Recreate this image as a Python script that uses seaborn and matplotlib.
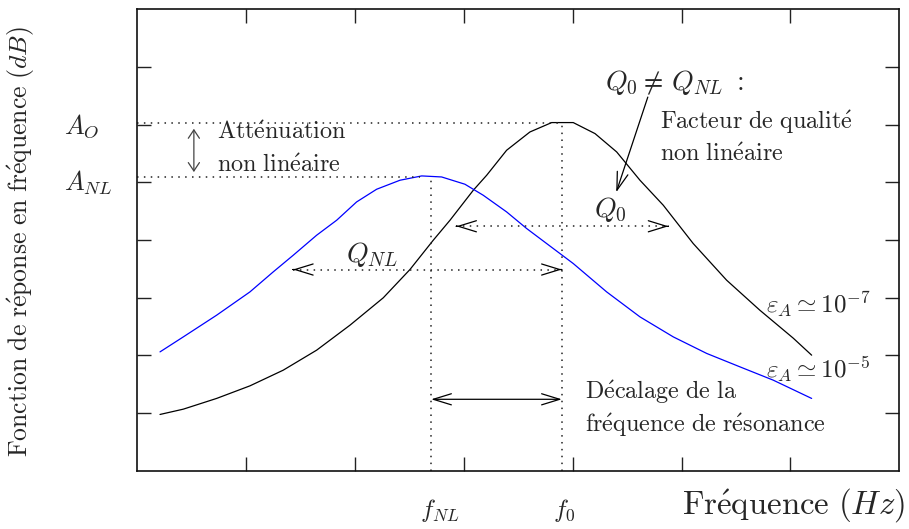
import matplotlib
matplotlib.use("Agg")
import matplotlib.pyplot as plt
import seaborn as sns
import pandas as pd

# linear response (eps_A ~ 1e-7), black curve
freq_lin = [0.209, 0.423, 0.729, 1.035, 1.341, 1.648, 1.954, 2.260, 2.505,
            2.719, 2.873, 3.087, 3.210, 3.393, 3.607, 3.807, 4.005, 4.205,
            4.404, 4.618, 4.832, 5.107, 5.414, 5.719, 6.026, 6.195]
amp_lin = [0.977, 1.069, 1.255, 1.473, 1.745, 2.092, 2.525, 3.000, 3.490,
           3.998, 4.345, 4.865, 5.125, 5.558, 5.875, 6.038, 6.038, 5.847,
           5.529, 5.038, 4.605, 3.941, 3.305, 2.785, 2.300, 2.005]
# non linear response (eps_A ~ 1e-5), blue curve
freq_nl = [0.209, 0.423, 0.729, 1.035, 1.249, 1.433, 1.648, 1.832, 2.015,
           2.199, 2.413, 2.613, 2.796, 3.010, 3.178, 3.393, 3.577, 3.699,
           4.005, 4.312, 4.618, 4.924, 5.231, 5.537, 5.842, 6.195]
amp_nl = [2.062, 2.322, 2.698, 3.102, 3.449, 3.738, 4.085, 4.345, 4.662,
          4.882, 5.038, 5.113, 5.095, 4.969, 4.778, 4.489, 4.201, 4.028,
          3.594, 3.102, 2.669, 2.322, 2.035, 1.802, 1.572, 1.255]

f0, f_nl = 3.90, 2.70
a0, a_nl = 6.03, 5.10
q0_span = (2.93, 4.88, 4.24)
qnl_span = (1.43, 3.90, 3.49)


def rm(s):
    # plain text rendered in computer modern roman
    s = s.replace(' ', r'\ ').replace('é', r'\acute{e}')
    return r'$\mathrm{' + s + '}$'


def head(ax, x, y, dx, dy, hl=1.3, hw=0.4, color='k'):
    ax.annotate('', xy=(x, y), xytext=(x - dx, y - dy),
                arrowprops=dict(arrowstyle=f'->,head_length={hl},head_width={hw}',
                                lw=0.9, color=color, shrinkA=0, shrinkB=0))


sns.set_style('ticks')
plt.rcParams['mathtext.fontset'] = 'cm'
plt.rcParams['font.family'] = ['DejaVu Serif']

fig = plt.figure(figsize=(9.09, 5.29), dpi=100)
ax = fig.add_axes([0.151, 0.110, 0.8383, 0.8722])

df_lin = pd.DataFrame({'f': freq_lin, 'a': amp_lin})
df_nl = pd.DataFrame({'f': freq_nl, 'a': amp_nl})
sns.lineplot(data=df_lin, x='f', y='a', sort=False, estimator=None, color='black', lw=0.9, ax=ax)
sns.lineplot(data=df_nl, x='f', y='a', sort=False, estimator=None, color='#0000ff', lw=0.9, ax=ax)

ax.set_xlim(0, 7)
ax.set_ylim(0, 8)
ax.set_xticks(range(1, 7))
ax.set_yticks(range(1, 8))
ax.set_xlabel('')
ax.set_ylabel('')
ax.tick_params(direction='in', length=10, width=1, top=True, right=True,
               labelbottom=False, labelleft=False, color='#222222')
for sp in ax.spines.values():
    sp.set_linewidth(1.2)
    sp.set_color('#111111')

dot = dict(color='#222222', lw=1.1, ls=(0, (1, 3.5)))
ax.plot([0, f0], [a0, a0], **dot)
ax.plot([0, f_nl - 0.1], [a_nl, a_nl], **dot)
ax.plot([f0, f0], [0, a0], **dot)
ax.plot([f_nl, f_nl], [0, a_nl], **dot)

# dotted bandwidth arrows
x1, x2, yq = qnl_span
ax.plot([x1, x2], [yq, yq], **dot)
head(ax, x1, yq, -0.001, 0)
head(ax, x2, yq, 0.001, 0)
x1, x2, yq = q0_span
ax.plot([x1, x2], [yq, yq], **dot)
head(ax, x1, yq, -0.001, 0)
head(ax, x2, yq, 0.001, 0)

# frequency shift arrow
ax.annotate('', xy=(f_nl, 1.24), xytext=(f0, 1.24),
            arrowprops=dict(arrowstyle='<->,head_length=1.3,head_width=0.4',
                            lw=0.9, color='k', shrinkA=0, shrinkB=0))
# attenuation arrow
ax.annotate('', xy=(0.52, 5.93), xytext=(0.52, 5.18),
            arrowprops=dict(arrowstyle='<->,head_length=0.6,head_width=0.4',
                            lw=0.9, color='#444444', shrinkA=0, shrinkB=0))
# quality factor arrow
ax.annotate('', xy=(4.40, 4.83), xytext=(4.69, 6.48),
            arrowprops=dict(arrowstyle='->,head_length=1.3,head_width=0.4',
                            lw=0.9, color='k', shrinkA=0, shrinkB=0))

fs = 17.4
ax.text(0.73, 5.76, rm('Atténuation'), fontsize=fs, va='baseline')
ax.text(0.73, 5.18, rm('non linéaire'), fontsize=fs, va='baseline')
ax.text(4.80, 5.92, rm('Facteur de qualité'), fontsize=fs, va='baseline')
ax.text(4.80, 5.37, rm('non linéaire'), fontsize=fs, va='baseline')
ax.text(4.11, 1.24, rm('Décalage de la'), fontsize=fs, va='baseline')
ax.text(4.11, 0.68, rm('fréquence de résonance'), fontsize=fs, va='baseline')

ax.text(4.30, 6.61, r'$Q_0 \neq\, Q_{NL}\ :$', fontsize=20, va='baseline')
ax.text(4.20, 4.40, r'$Q_0$', fontsize=20, va='baseline')
ax.text(1.92, 3.62, r'$Q_{NL}$', fontsize=20, va='baseline')
ax.text(5.78, 2.73, r'$\varepsilon_A \simeq 10^{-7}$', fontsize=18, va='baseline')
ax.text(5.78, 1.60, r'$\varepsilon_A \simeq 10^{-5}$', fontsize=18, va='baseline')

ax.text(-0.67, 5.85, r'$A_O$', fontsize=19, va='baseline', clip_on=False)
ax.text(-0.67, 4.86, r'$A_{NL}$', fontsize=19, va='baseline', clip_on=False)
ax.text(2.78, -0.68, r'$f_{NL}$', fontsize=18, ha='center', va='center', clip_on=False)
ax.text(3.92, -0.68, r'$f_0$', fontsize=18, ha='center', va='center', clip_on=False)
ax.text(7.05, -0.6, rm('Fréquence') + r'$\ (Hz)$', fontsize=23.7, ha='right', va='center',
        clip_on=False)
fig.text(0.024, 0.5425, rm('Fonction de réponse en fréquence') + r'$\ (dB)$',
         fontsize=18.5, rotation=90, ha='center', va='center')

fig.savefig('out.png', dpi=100)
